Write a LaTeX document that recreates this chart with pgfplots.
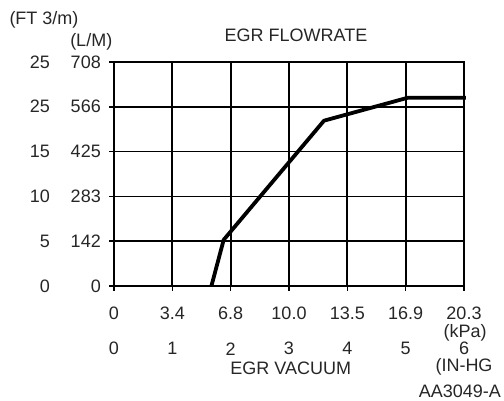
\documentclass[border=0pt]{standalone}
\usepackage{fontspec}
\setmainfont{Liberation Sans}
\usepackage{pgfplots}
\pgfplotsset{compat=1.18}
\begin{document}
\begin{tikzpicture}[every node/.style={font=\fontsize{18}{20}\selectfont, text=black!85, inner sep=0.5pt}]
\begin{axis}[
    name=ax,
    width=350pt, height=224pt,
    scale only axis,
    xmin=0, xmax=6, ymin=0, ymax=5,
    xtick={0,1,2,3,4,5,6},
    ytick={0,1,2,3,4,5},
    xticklabels={0,3.4,6.8,10.0,13.5,16.9,20.3},
    yticklabels={
      \makebox[50pt][r]{0}\makebox[51pt][r]{0},
      \makebox[50pt][r]{5}\makebox[51pt][r]{142},
      \makebox[50pt][r]{10}\makebox[51pt][r]{283},
      \makebox[50pt][r]{15}\makebox[51pt][r]{425},
      \makebox[50pt][r]{25}\makebox[51pt][r]{566},
      \makebox[50pt][r]{25}\makebox[51pt][r]{708}},
    xticklabel style={anchor=center, yshift=-22pt},
    yticklabel style={anchor=east, inner sep=0pt, xshift=-8pt},
    tick align=outside,
    major tick length=5pt,
    tick style={black, line width=1.6pt},
    xtick pos=bottom, ytick pos=left,
    grid=major,
    major grid style={black, line width=1.7pt},
    axis line style={black, line width=1.7pt},
    clip=false
]
\addplot[black, line width=3.8pt, line join=round] coordinates {
  (1.67,0) (1.88,1.03) (3.6,3.69) (5.03,4.2) (6.03,4.2)
};
\node at (axis cs:3.12,5.60) {EGR FLOWRATE};
\node at (axis cs:-1.2,5.94) {(FT 3/m)};
\node at (axis cs:-0.39,5.46) {(L/M)};
\node at (axis cs:6.02,-1.05) {(kPa)};
\node at (axis cs:0,-1.40) {0};
\node at (axis cs:1,-1.40) {1};
\node at (axis cs:2,-1.40) {2};
\node at (axis cs:3,-1.40) {3};
\node at (axis cs:4,-1.40) {4};
\node at (axis cs:5,-1.40) {5};
\node at (axis cs:6,-1.40) {6};
\node at (axis cs:3.03,-1.83) {EGR VACUUM};
\node at (axis cs:6.0,-1.80) {(IN-HG};
\node at (axis cs:5.93,-2.34) {AA3049-A};
\end{axis}
\pgfresetboundingbox
\path ([xshift=-114pt,yshift=-114pt]ax.south west) rectangle ([xshift=40pt,yshift=62pt]ax.north east);
\end{tikzpicture}
\end{document}
